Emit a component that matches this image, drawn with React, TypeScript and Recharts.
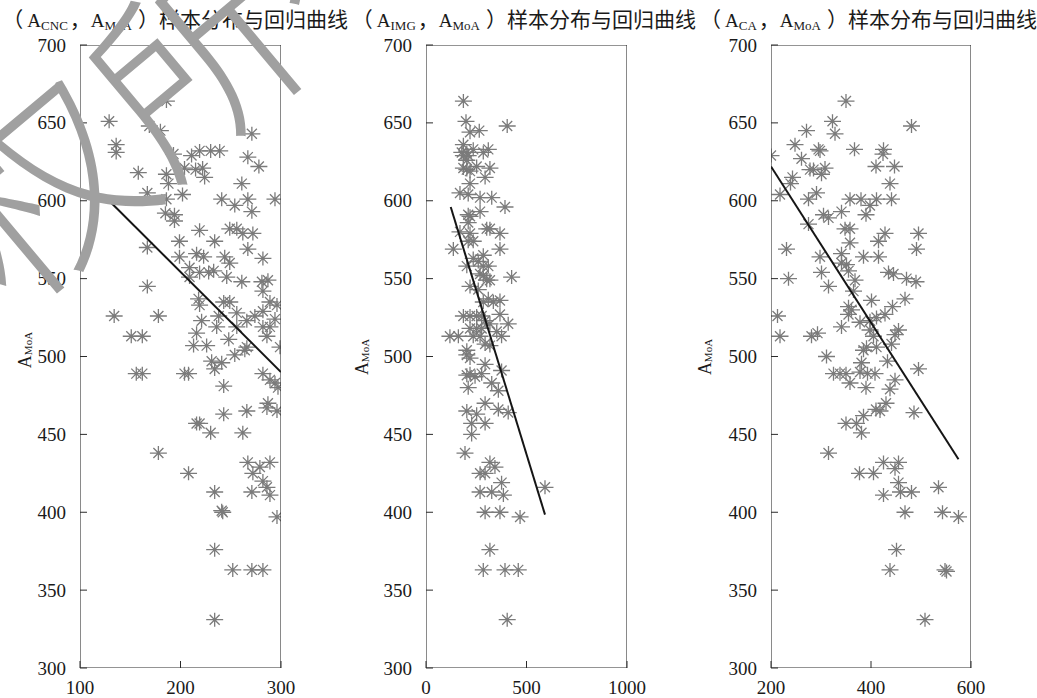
import React from 'react';
import { ScatterChart, Scatter, XAxis, YAxis } from 'recharts';

// (A_CNC, A_MoA) samples
const cncPoints: [number, number][] = [
  [186,664],[129,651],[169,648],[180,645],[271,643],[136,636],[136,631],[193,630],[211,629],[219,632],
  [230,632],[239,632],[267,628],[278,622],[204,621],[215,620],[222,621],[224,615],[158,618],[186,617],
  [188,611],[261,611],[167,605],[202,604],[186,601],[241,601],[254,597],[267,601],[294,601],[271,593],
  [185,592],[194,591],[194,587],[219,581],[249,582],[256,582],[262,579],[272,579],[234,574],[199,574],
  [167,570],[267,569],[216,566],[223,564],[199,564],[244,564],[249,560],[282,563],[209,557],[219,554],
  [228,554],[233,555],[209,551],[246,551],[261,548],[281,548],[287,549],[167,545],[282,542],[218,537],
  [219,533],[243,535],[249,535],[289,535],[296,533],[134,526],[178,526],[256,528],[274,526],[282,529],
  [238,526],[221,523],[266,523],[294,524],[236,519],[256,519],[282,519],[289,519],[216,515],[151,513],
  [162,513],[248,511],[286,513],[213,507],[226,507],[266,506],[299,506],
  [264,504],[254,501],[231,497],[241,496],[234,492],[156,489],[162,489],[204,489],[208,489],[282,489],
  [289,485],[294,483],[297,480],[243,481],[287,470],[286,467],[296,465],[266,465],[243,463],[219,457],
  [216,457],[230,451],[262,451],[178,438],[267,432],[289,432],[279,429],[272,425],[208,425],[282,420],
  [286,416],[271,413],[289,411],[234,413],[241,401],[242,400],[296,397],[234,376],[252,363],[271,363],
  [282,363],[234,331],
];

// (A_IMG, A_MoA) samples
const imgPoints: [number, number][] = [
  [186,664],[199,651],[404,648],[219,644],[265,645],[186,636],[178,631],[203,631],[235,633],[285,631],
  [310,633],[186,629],[210,629],[203,626],[186,621],[203,620],[252,622],[318,621],[294,615],[219,619],
  [219,611],[169,605],[210,604],[269,602],[327,602],[393,596],[269,593],[210,591],[219,590],[210,586],
  [302,582],[318,582],[169,580],[219,579],[368,579],[210,574],[235,574],[136,569],[368,569],[285,565],
  [235,563],[260,561],[203,558],[285,558],[310,558],[269,553],[285,552],[302,549],[318,549],[426,551],
  [219,545],[260,543],[310,537],[335,535],[368,536],[285,535],[186,526],[219,526],[252,526],[277,526],
  [368,527],[409,521],[318,521],[294,523],[219,518],[252,518],[277,518],[119,513],[161,513],[235,513],
  [269,513],[376,513],[352,516],[294,508],[318,507],[203,504],
  [203,501],[219,499],[294,495],[203,488],[219,489],[244,487],[277,489],[376,491],[210,480],[327,483],
  [360,478],[294,470],[203,465],[252,463],[360,466],[409,464],[227,457],[294,457],[227,450],[194,438],
  [318,432],[343,429],[269,425],[294,425],[376,419],[269,413],[327,413],[385,411],[592,416],[294,400],
  [368,400],[468,397],[318,376],[285,363],[393,363],[459,363],[404,331],
];

// (A_CA, A_MoA) samples
const caPoints: [number, number][] = [
  [350,664],[323,651],[481,648],[271,645],[328,643],[248,636],[295,633],[298,632],[367,633],[425,633],
  [424,630],[200,629],[261,627],[278,620],[285,620],[308,621],[301,617],[410,622],[447,622],[243,615],
  [239,611],[438,611],[218,604],[291,605],[275,601],[358,601],[380,601],[411,601],[441,601],[398,597],
  [341,593],[305,591],[315,589],[390,591],[275,585],[348,582],[358,582],[358,573],[428,579],[415,574],
  [495,579],[231,569],[491,569],[341,566],[298,564],[385,564],[415,564],[341,560],[351,559],[355,555],
  [301,554],[435,554],[445,553],[471,550],[490,548],[235,550],[368,549],[315,545],[365,542],[468,537],
  [401,536],[355,532],[361,530],[443,532],[355,527],[378,522],[398,523],[411,525],[428,527],[213,526],
  [341,519],[398,517],[455,517],[448,514],[218,513],[281,513],[293,515],[405,513],[441,508],[391,506],
  [385,504],[311,500],[411,506],
  [433,497],[495,492],[381,496],[325,489],[338,489],[350,489],[378,490],[393,489],[408,489],[358,483],
  [390,480],[448,485],[438,479],[430,470],[410,466],[418,465],[385,462],[486,464],[350,457],[371,457],
  [381,451],[315,438],[425,432],[455,432],[448,428],[377,425],[405,425],[455,419],[535,416],[425,411],
  [459,413],[481,413],[468,400],[543,400],[575,397],[451,376],[438,363],[548,363],[551,362],[508,331],
];

// regression line end points
const cncFit: [number, number][] = [[129, 600], [300, 490]];
const imgFit: [number, number][] = [[123, 596], [592, 398.5]];
const caFit: [number, number][] = [[200, 622], [575, 434]];

const yTicks = [300, 350, 400, 450, 500, 550, 600, 650, 700];
const cncXTicks = [100, 200, 300];
const imgXTicks = [0, 500, 1000];
const caXTicks = [200, 400, 600];

const SERIF = "'Liberation Serif', 'Times New Roman', 'Noto Sans CJK SC', serif";
const CJK = "'Noto Sans CJK SC', sans-serif";
const AXIS = '#2b2b2b';
const TEXT = '#1a1a1a';
const TICK_LEN = 7;
const Y_GAP = 14;
const X_GAP = 12;

const Star = (props: any) => {
  const cx = Number(props.cx);
  const cy = Number(props.cy);
  if (!isFinite(cx) || !isFinite(cy)) return <g />;
  const d = `M${cx - 8.5},${cy}H${cx + 8.5}M${cx},${cy - 7}V${cy + 7}M${cx - 5},${cy - 5}L${cx + 5},${cy + 5}M${cx - 5},${cy + 5}L${cx + 5},${cy - 5}`;
  return <path d={d} stroke="#7b7b7b" strokeWidth={1.3} fill="none" />;
};

const NoShape = () => <g />;

const LeftTick = (p: any) => {
  const x = Number(p.x);
  const y = Number(p.y);
  return (
    <g>
      <path d={`M${x + Y_GAP},${y}H${x + Y_GAP + TICK_LEN}`} stroke={AXIS} strokeWidth={1} fill="none" />
      <text x={x} y={y} textAnchor="end" dominantBaseline="central" fontSize={19} fontFamily={SERIF} fill={TEXT}>
        {p.payload.value}
      </text>
    </g>
  );
};

const BottomTick = (p: any) => {
  const x = Number(p.x);
  const y = Number(p.y);
  return (
    <g>
      <path d={`M${x},${y - X_GAP}V${y - X_GAP - TICK_LEN}`} stroke={AXIS} strokeWidth={1} fill="none" />
      <text x={x} y={y} dy="0.72em" textAnchor="middle" fontSize={19} fontFamily={SERIF} fill={TEXT}>
        {p.payload.value}
      </text>
    </g>
  );
};

const RightTick = (p: any) => {
  const x = Number(p.x);
  const y = Number(p.y);
  return <path d={`M${x},${y}H${x - TICK_LEN}`} stroke={AXIS} strokeWidth={1} fill="none" />;
};

const TopTick = (p: any) => {
  const x = Number(p.x);
  const y = Number(p.y);
  return <path d={`M${x},${y}V${y + TICK_LEN}`} stroke={AXIS} strokeWidth={1} fill="none" />;
};

type PanelProps = {
  left: number;
  plotW: number;
  points: [number, number][];
  fit: [number, number][];
  xDomain: [number, number];
  xTicks: number[];
  labelX: number;
  labelY: number;
};

function Panel({ left, plotW, points, fit, xDomain, xTicks, labelX, labelY }: PanelProps) {
  const data = points.map(([x, y]) => ({ x, y }));
  const fitData = fit.map(([x, y]) => ({ x, y }));
  const yMin = yTicks[0];
  const yMax = yTicks[yTicks.length - 1];
  const frame = [
    { x: xDomain[0], y: yMin }, { x: xDomain[1], y: yMin }, { x: xDomain[1], y: yMax },
    { x: xDomain[0], y: yMax }, { x: xDomain[0], y: yMin },
  ];
  const yLabel = (p: any) => {
    const vb = p.viewBox || {};
    const x = Number(vb.x || 0) + labelX;
    const y = labelY;
    return (
      <text x={x} y={y} transform={`rotate(-90 ${x} ${y})`} textAnchor="middle" dominantBaseline="central"
        fontFamily={SERIF} fill={TEXT}>
        <tspan fontSize={18}>A</tspan>
        <tspan fontSize={11} dy={3}>MoA</tspan>
      </text>
    );
  };
  return (
    <div style={{ position: 'absolute', left, top: 0 }}>
      <ScatterChart width={80 + plotW + 30} height={698} margin={{ top: 45, right: 30, bottom: 0, left: 0 }}>
        <XAxis xAxisId="b" type="number" dataKey="x" domain={xDomain} ticks={xTicks} interval={0}
          orientation="bottom" height={30} tickSize={0} tickMargin={X_GAP} tickLine={false}
          axisLine={false} tick={BottomTick} allowDataOverflow />
        <XAxis xAxisId="t" type="number" dataKey="x" domain={xDomain} ticks={xTicks} interval={0}
          orientation="top" height={0} tickSize={0} tickMargin={0} tickLine={false}
          axisLine={false} tick={TopTick} allowDataOverflow />
        <YAxis yAxisId="l" type="number" dataKey="y" domain={[yMin, yMax]} ticks={yTicks} interval={0}
          orientation="left" width={80} tickSize={0} tickMargin={Y_GAP} tickLine={false}
          axisLine={false} tick={LeftTick} label={yLabel} allowDataOverflow />
        <YAxis yAxisId="r" type="number" dataKey="y" domain={[yMin, yMax]} ticks={yTicks} interval={0}
          orientation="right" width={0} tickSize={0} tickMargin={0} tickLine={false}
          axisLine={false} tick={RightTick} allowDataOverflow />
        <Scatter xAxisId="b" yAxisId="l" data={data} shape={Star} isAnimationActive={false} />
        <Scatter xAxisId="t" yAxisId="r" data={fitData} shape={NoShape} line={{ stroke: '#151515', strokeWidth: 2 }}
          isAnimationActive={false} />
        <Scatter xAxisId="b" yAxisId="l" data={frame} shape={NoShape} line={{ stroke: AXIS, strokeWidth: 1.1 }}
          isAnimationActive={false} />
      </ScatterChart>
    </div>
  );
}

const Sub = ({ children }: { children: React.ReactNode }) => (
  <span style={{ fontFamily: SERIF, fontSize: 13, position: 'relative', top: 3 }}>{children}</span>
);

function Title({ right, sub }: { right: number; sub: string }) {
  return (
    <div style={{ position: 'absolute', left: right - 400, width: 400, top: 4, textAlign: 'right', fontSize: 21,
      fontFamily: CJK, color: TEXT, whiteSpace: 'nowrap', lineHeight: '28px' }}>
      <span>（</span>
      <span style={{ fontFamily: SERIF, fontSize: 19, marginLeft: 4 }}>A</span><Sub>{sub}</Sub>
      <span style={{ marginLeft: 2 }}>，</span>
      <span style={{ fontFamily: SERIF, fontSize: 19 }}>A</span><Sub>MoA</Sub>
      <span style={{ marginLeft: 6 }}>）</span>
      <span>样本分布与回归曲线</span>
    </div>
  );
}

const WATERMARK = '版权所有';

function Watermark() {
  return (
    <svg width={330} height={300} style={{ position: 'absolute', left: 0, top: 0, pointerEvents: 'none' }}>
      <text x={-140} y={440} transform="rotate(-40 -140 440)" fontSize={200} fontFamily={CJK} fontWeight={300}
        fill="#a0a0a0">
        {WATERMARK}
      </text>
    </svg>
  );
}

export default function App() {
  return (
    <div style={{ position: 'absolute', left: 0, top: 0, width: 1037, height: 698, background: '#fff', overflow: 'hidden' }}>
      <Panel left={0} plotW={201} points={cncPoints} fit={cncFit} xDomain={[100, 300]} xTicks={cncXTicks} labelX={25} labelY={350} />
      <Panel left={346} plotW={201} points={imgPoints} fit={imgFit} xDomain={[0, 1000]} xTicks={imgXTicks} labelX={16} labelY={357} />
      <Panel left={691} plotW={200} points={caPoints} fit={caFit} xDomain={[200, 600]} xTicks={caXTicks} labelX={14} labelY={357} />
      <Title right={348} sub="CNC" />
      <Title right={696} sub="IMG" />
      <Title right={1037} sub="CA" />
      <Watermark />
    </div>
  );
}
